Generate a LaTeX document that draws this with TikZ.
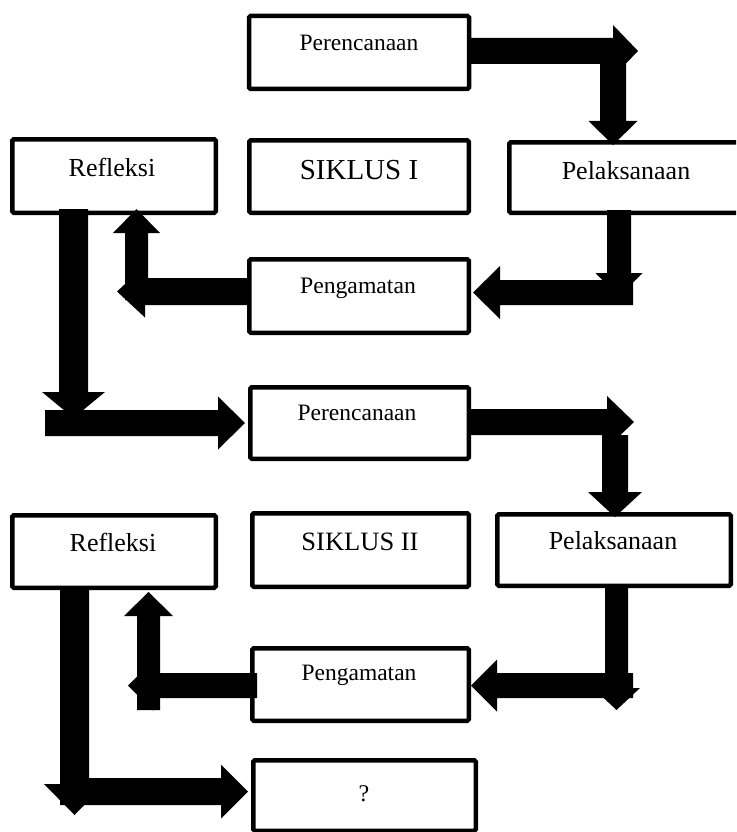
\documentclass[tikz,border=0pt]{standalone}
\usepackage{fontspec}
\setmainfont{Liberation Serif}
% horizontal block arrow: start x, head-base x, tip x, centre y, half shaft, half head
\newcommand\arH[6]{\fill[blockarrow] (#1,#4-#5) -- (#2,#4-#5) -- (#2,#4-#6) -- (#3,#4) -- (#2,#4+#6) -- (#2,#4+#5) -- (#1,#4+#5) -- cycle;}
% vertical block arrow: start y, head-base y, tip y, centre x, half shaft, half head
\newcommand\arV[6]{\fill[blockarrow] (#4-#5,#1) -- (#4-#5,#2) -- (#4-#6,#2) -- (#4,#3) -- (#4+#6,#2) -- (#4+#5,#2) -- (#4+#5,#1) -- cycle;}
\newcommand\fsz[1]{\fontsize{#1}{#1}\selectfont}
\tikzset{
  box/.style={draw, line width=4.5pt, fill=white, rounded corners=1.5pt, inner sep=0pt, outer sep=0pt},
  lbl/.style={anchor=base, inner sep=0pt},
  blockarrow/.style={fill=black}
}
\begin{document}
\begin{tikzpicture}[x=1pt,y=-1pt]
\useasboundingbox (0,0) rectangle (736,832);
\clip (0,0) rectangle (736,832);
% boxes
\node[box, minimum width=220, minimum height=73] (b1) at (359,52.5) {};
\node[box, minimum width=203.5, minimum height=73.5] (b2) at (114,176) {};
\node[box, minimum width=219.5, minimum height=72.5] (b3) at (359,176.5) {};
\node[box, minimum width=233.5, minimum height=70.5] (b4) at (626,177.5) {};
\node[box, minimum width=219.5, minimum height=73.5] (b5) at (359,296) {};
\node[box, minimum width=218.5, minimum height=71.5] (b6) at (359.5,423) {};
\node[box, minimum width=203.5, minimum height=72.5] (b7) at (114,551.5) {};
\node[box, minimum width=216.5, minimum height=73.5] (b8) at (360.5,550) {};
\node[box, minimum width=233.5, minimum height=71.5] (b9) at (614,550) {};
\node[box, minimum width=216.5, minimum height=72.5] (b10) at (360.5,684.5) {};
\node[box, minimum width=222.5, minimum height=70.5] (b11) at (364.5,795.5) {};
% labels
\node[lbl, font=\fsz{23.5}] (t1) at (359,51) {Perencanaan};
\node[lbl, font=\fsz{26}] (t2) at (112,176) {Refleksi};
\node[lbl, font=\fsz{29}] (t3) at (359,179) {SIKLUS I};
\node[lbl, font=\fsz{26}] (t4) at (626,179) {Pelaksanaan};
\node[lbl, font=\fsz{23.7}] (t5) at (358,293) {Pengamatan};
\node[lbl, font=\fsz{23.5}] (t6) at (357,420) {Perencanaan};
\node[lbl, font=\fsz{26}] (t7) at (113,551) {Refleksi};
\node[lbl, font=\fsz{26.5}] (t8) at (360,550) {SIKLUS II};
\node[lbl, font=\fsz{26}] (t9) at (613,549) {Pelaksanaan};
\node[lbl, font=\fsz{23.5}] (t10) at (359,680) {Pengamatan};
\node[lbl, font=\fsz{24}] (t11) at (364,801) {?};
% block arrows
\arH{469}{613}{638}{51}{13}{26}
\arV{60}{121}{145}{613}{13}{24.5}
\arV{210}{273}{297}{619}{12}{23.5}
\arH{633}{500}{473}{292.5}{12.5}{26.5}
\arH{249}{145}{117}{291.5}{13.5}{26}
\arV{300}{233}{209}{136.5}{11.5}{23.5}
\arV{209}{392}{418}{73.5}{14.5}{31.5}
\arH{45}{218}{245}{423}{13}{26.5}
\arH{469}{607}{634}{422}{13}{26}
\arV{435}{492}{517}{615}{13}{27}
\arV{586}{688}{710}{616.5}{11.5}{23.5}
\arH{633}{497}{471}{685.5}{12.5}{26}
\arH{257}{153}{128}{685.5}{12.5}{25}
\arV{710}{616}{592}{148.5}{11.5}{24.5}
\arV{586}{784}{815}{74.5}{14.5}{30.5}
\arH{60}{221}{248}{791.5}{13.5}{27}
\end{tikzpicture}
\end{document}
